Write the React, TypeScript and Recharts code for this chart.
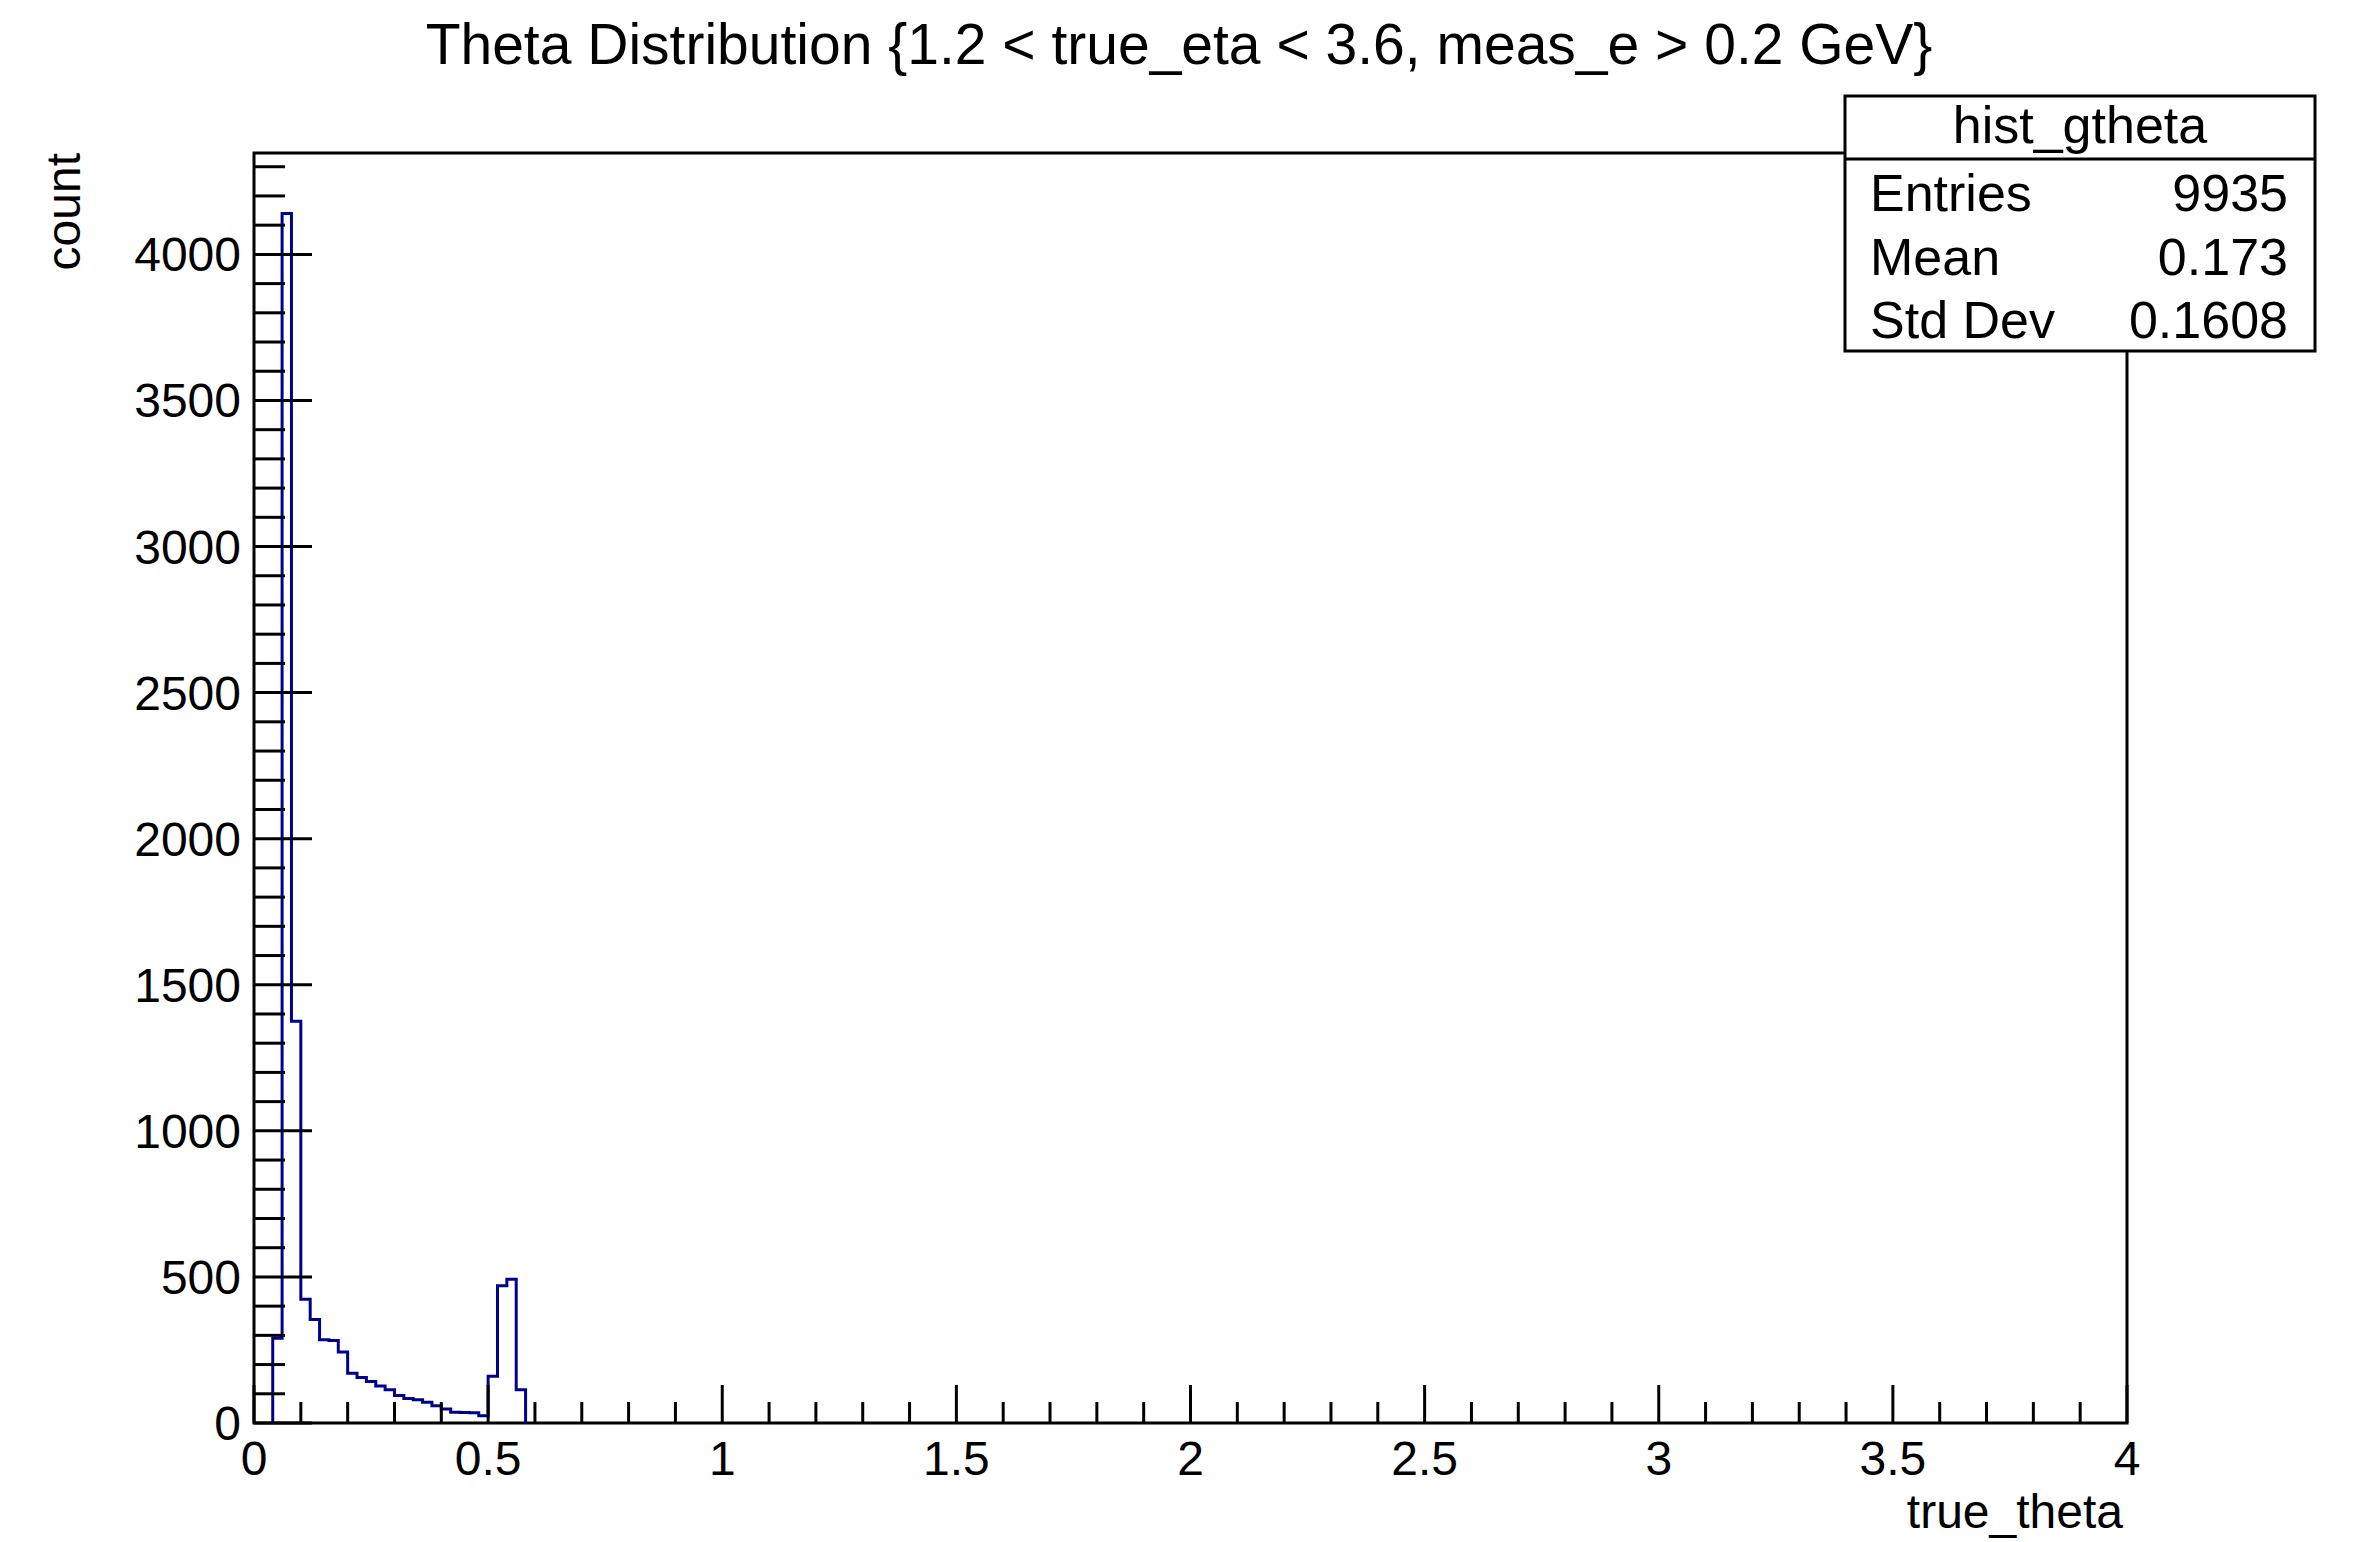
import React from 'react';
import { ComposedChart, Line, XAxis, YAxis, ReferenceArea } from 'recharts';

// ---------- data ----------
const binLowEdges = [
  0.04, 0.06, 0.08, 0.1, 0.12, 0.14, 0.16, 0.18, 0.2, 0.22, 0.24, 0.26, 0.28,
  0.3, 0.32, 0.34, 0.36, 0.38, 0.4, 0.42, 0.44, 0.46, 0.48, 0.5, 0.52, 0.54, 0.56,
];
const binCounts = [
  290, 4140, 1375, 424, 354, 285, 282, 243, 170, 156, 142, 127, 114,
  94, 84, 80, 71, 59, 48, 37, 36, 35, 25, 160, 470, 492, 114,
];
const lastBinHighEdge = 0.58;

const xMajorTicks = [0, 0.5, 1, 1.5, 2, 2.5, 3, 3.5, 4];
const yMajorTicks = [0, 500, 1000, 1500, 2000, 2500, 3000, 3500, 4000];
const xMinorStep = 0.1;
const yMinorStep = 100;
const xDomain = [0, 4];
const yMax = 4347;

const titleText = 'Theta Distribution {1.2 < true_eta < 3.6, meas_e > 0.2 GeV}';
const xTitle = 'true_theta';
const yTitle = 'count';
const statsTitle = 'hist_gtheta';
const statsLabels = ['Entries', 'Mean', 'Std Dev'];
const statsValues = ['9935', '0.173', '0.1608'];

// ---------- derived ----------
const histData = [
  { x: binLowEdges[0], count: 0 },
  ...binLowEdges.map((e, i) => ({ x: e, count: binCounts[i] })),
  { x: lastBinHighEdge, count: 0 },
];

const xTicks: number[] = [];
for (let k = 0; k * xMinorStep <= xDomain[1] + 1e-9; k++) xTicks.push(Math.round(k * xMinorStep * 1000) / 1000);
const yTicks: number[] = [];
for (let k = 0; k * yMinorStep <= yMax; k++) yTicks.push(k * yMinorStep);

const isIn = (v: number, arr: number[]) => arr.some((m) => Math.abs(m - v) < 1e-6);

const FONT = '"Liberation Sans", Arial, Helvetica, sans-serif';
const W = 2361;
const H = 1542;
const PLOT_LEFT = 254;
const PLOT_TOP = 153;
const PLOT_RIGHT = 2127;
const PLOT_BOTTOM = 1423;
const Y_AXIS_W = 80;
const X_AXIS_H = 60;

const XTick = (props: any) => {
  const { x, y, payload } = props;
  const v = payload.value as number;
  const major = isIn(v, xMajorTicks);
  const len = major ? 38 : 21;
  return (
    <g>
      <line x1={x} x2={x} y1={y} y2={y - len} stroke="#000" strokeWidth={3} />
      {major && (
        <text x={x} y={y + 52} textAnchor="middle" fontSize={48} fontFamily={FONT} fill="#000">
          {String(v)}
        </text>
      )}
    </g>
  );
};

const YTick = (props: any) => {
  const { x, y, payload } = props;
  const v = payload.value as number;
  const major = isIn(v, yMajorTicks);
  const len = major ? 58 : 31;
  return (
    <g>
      <line x1={x} x2={x + len} y1={y} y2={y} stroke="#000" strokeWidth={3} />
      {major && (
        <text x={x - 13} y={y + 17} textAnchor="end" fontSize={48} fontFamily={FONT} fill="#000">
          {String(v)}
        </text>
      )}
    </g>
  );
};

export default function App() {
  const boxX = 1845;
  const boxY = 96;
  const boxW = 470;
  const boxH = 255;
  const headerY = 159;
  const rowBaselines = [211, 275, 338];
  return (
    <div
      style={{
        position: 'absolute',
        left: 0,
        top: 0,
        width: W,
        height: H,
        background: '#fff',
        fontFamily: FONT,
        overflow: 'hidden',
      }}
    >
      <ComposedChart
        width={W}
        height={H}
        data={histData}
        margin={{
          top: PLOT_TOP,
          left: PLOT_LEFT - Y_AXIS_W,
          right: W - PLOT_RIGHT,
          bottom: H - PLOT_BOTTOM - X_AXIS_H,
        }}
      >
        <XAxis
          dataKey="x"
          type="number"
          domain={xDomain}
          allowDataOverflow
          ticks={xTicks}
          interval={0}
          tickSize={0}
          tickMargin={0}
          tickLine={false}
          axisLine={false}
          height={X_AXIS_H}
          tick={<XTick />}
        />
        <YAxis
          type="number"
          domain={[0, yMax]}
          allowDataOverflow
          ticks={yTicks}
          interval={0}
          tickSize={0}
          tickMargin={0}
          tickLine={false}
          axisLine={false}
          width={Y_AXIS_W}
          tick={<YTick />}
        />
        <Line
          dataKey="count"
          type="stepAfter"
          stroke="#000090"
          strokeWidth={3}
          dot={false}
          activeDot={false}
          isAnimationActive={false}
        />
        <ReferenceArea
          x1={xDomain[0]}
          x2={xDomain[1]}
          y1={0}
          y2={yMax}
          fill="none"
          fillOpacity={0}
          stroke="#000"
          strokeWidth={3}
          ifOverflow="visible"
        />
      </ComposedChart>
      <svg
        width={W}
        height={H}
        style={{ position: 'absolute', left: 0, top: 0, pointerEvents: 'none' }}
      >
        <text x={1179} y={64} textAnchor="middle" fontSize={57} fontFamily={FONT} fill="#000">
          {titleText}
        </text>
        <text x={2123} y={1528} textAnchor="end" fontSize={48} fontFamily={FONT} fill="#000">
          {xTitle}
        </text>
        <text
          transform="translate(80,153) rotate(-90)"
          textAnchor="end"
          fontSize={48}
          fontFamily={FONT}
          fill="#000"
        >
          {yTitle}
        </text>
        <rect x={boxX} y={boxY} width={boxW} height={boxH} fill="#fff" stroke="#000" strokeWidth={3} />
        <line x1={boxX} x2={boxX + boxW} y1={headerY} y2={headerY} stroke="#000" strokeWidth={3} />
        <text x={boxX + boxW / 2} y={143} textAnchor="middle" fontSize={52} fontFamily={FONT} fill="#000">
          {statsTitle}
        </text>
        {statsLabels.map((l, i) => (
          <g key={l}>
            <text x={1870} y={rowBaselines[i]} fontSize={52} fontFamily={FONT} fill="#000">
              {l}
            </text>
            <text x={2288} y={rowBaselines[i]} textAnchor="end" fontSize={52} fontFamily={FONT} fill="#000">
              {statsValues[i]}
            </text>
          </g>
        ))}
      </svg>
    </div>
  );
}
